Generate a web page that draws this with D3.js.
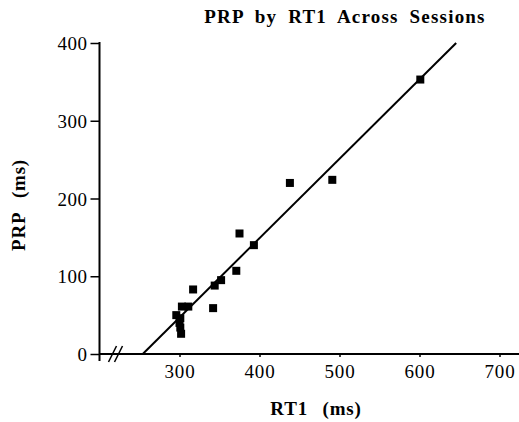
<!DOCTYPE html>
<html>
<head>
<meta charset="utf-8">
<script src="https://cdn.jsdelivr.net/npm/d3@7"></script>
<style>
  html, body { margin: 0; padding: 0; background: #fff; }
  svg text { font-family: "Liberation Serif", "Times New Roman", serif; fill: #000; }
</style>
</head>
<body>
<svg id="chart" width="519" height="422"></svg>
<script>
// Data (RT1 ms, PRP ms)
const rt1 = [296, 300, 301, 302, 301, 303, 311, 317, 342, 344, 352, 371, 375, 393, 438, 491, 601];
const prp = [50, 40, 34, 26, 46, 61, 61, 83, 59, 88, 95, 107, 155, 140, 220, 224, 353];
const xTicks = [300, 400, 500, 600, 700];
const yTicks = [0, 100, 200, 300, 400];
// regression line PRP = slope * RT1 + intercept
const slope = 1.021;
const intercept = -259.4;

const svg = d3.select("#chart");
const x = d3.scaleLinear().domain([200, 725]).range([99.5, 519.5]);
const y = d3.scaleLinear().domain([0, 400]).range([354, 43]);

// Y axis
const yAxis = d3.axisLeft(y).tickValues(yTicks).tickSize(9).tickPadding(3).tickFormat(d3.format("d"));
const gy = svg.append("g").attr("transform", `translate(${x(200)},0)`).call(yAxis);
gy.select(".domain").attr("stroke-width", 2).attr("d", `M0,${y(400)-1}V${y(0)+7}`);
gy.selectAll(".tick line").attr("stroke-width", 1.5);
gy.selectAll(".tick text").style("font-size", "19px").style("letter-spacing", "0.5px").attr("dy", "0.35em");

// X axis
const xAxis = d3.axisBottom(x).tickValues(xTicks).tickSize(3).tickPadding(8).tickFormat(d3.format("d"));
const gx = svg.append("g").attr("transform", `translate(0,${y(0)})`).call(xAxis);
gx.select(".domain").attr("stroke-width", 2).attr("d", `M${x(200)},0H519`);
gx.selectAll(".tick line").attr("stroke-width", 1.5);
gx.selectAll(".tick text").style("font-size", "19px").style("letter-spacing", "0.8px");

// axis break marks
const bx = x(200) + 16;
[ -3, 3 ].forEach(off => {
  svg.append("line")
    .attr("x1", bx + off - 4).attr("y1", y(0) + 8)
    .attr("x2", bx + off + 4).attr("y2", y(0) - 8)
    .attr("stroke", "#000").attr("stroke-width", 1.5);
});

// regression line
const xStart = -intercept / slope;
const xEnd = (400 - intercept) / slope;
svg.append("line")
  .attr("x1", x(xStart)).attr("y1", y(0))
  .attr("x2", x(xEnd)).attr("y2", y(400))
  .attr("stroke", "#000").attr("stroke-width", 2);

// points
const s = 8;
svg.append("g").selectAll("rect")
  .data(rt1.map((d, i) => [d, prp[i]]))
  .join("rect")
  .attr("x", d => x(d[0]) - s / 2)
  .attr("y", d => y(d[1]) - s / 2)
  .attr("width", s).attr("height", s)
  .attr("fill", "#000");

// title
svg.append("text")
  .attr("x", 345).attr("y", 23)
  .attr("text-anchor", "middle")
  .style("font-size", "19px").style("font-weight", "bold")
  .style("letter-spacing", "1.2px").style("word-spacing", "5px")
  .text("PRP by RT1 Across Sessions");

// x axis title
svg.append("text")
  .attr("x", 316).attr("y", 415)
  .attr("text-anchor", "middle")
  .style("font-size", "19px").style("font-weight", "bold")
  .style("letter-spacing", "0.8px").style("word-spacing", "9px")
  .text("RT1 (ms)");

// y axis title
svg.append("text")
  .attr("transform", "translate(25,205) rotate(-90)")
  .attr("text-anchor", "middle")
  .style("font-size", "19px").style("font-weight", "bold")
  .style("letter-spacing", "0.8px").style("word-spacing", "9px")
  .text("PRP (ms)");
</script>
</body>
</html>
